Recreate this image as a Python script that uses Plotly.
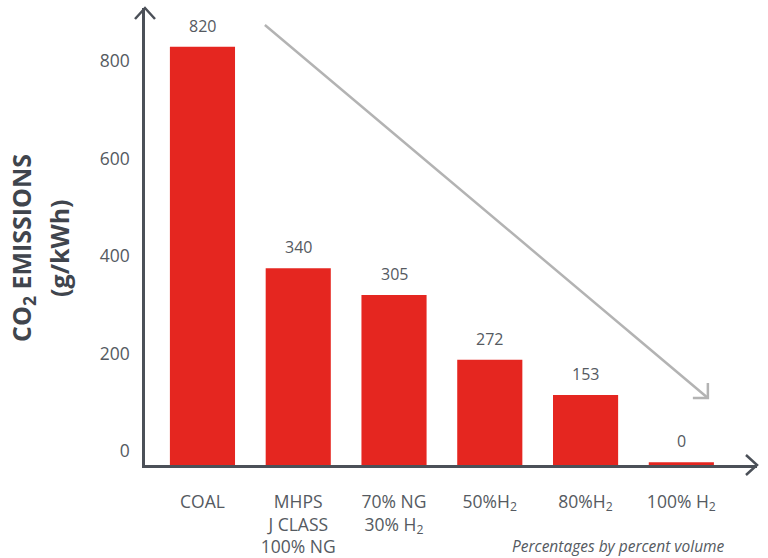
import plotly.graph_objects as go

categories = ["COAL", "MHPS<br>J CLASS<br>100% NG", "70% NG<br>30% H<sub>2</sub>",
              "50%H<sub>2</sub>", "80%H<sub>2</sub>", "100% H<sub>2</sub>"]
bar_tops = [829, 375, 320, 187, 115, -23]          # visual bar heights
value_labels = ["820", "340", "305", "272", "153", "0"]
y_ticks = [0, 200, 400, 600, 800]

Y_MIN, Y_MAX = -28.7, 908.7
X_MIN, X_MAX = -0.6, 5.79
AXIS_COL = "#4b5058"
TEXT_COL = "#555a61"
BAR_COL = "#e52620"
FONT = "Open Sans"

xs = list(range(len(categories)))

fig = go.Figure()
fig.add_trace(go.Bar(
    x=xs, y=[t - Y_MIN for t in bar_tops], base=Y_MIN,
    marker=dict(color=BAR_COL, line=dict(width=0)),
    width=0.68, hoverinfo="skip",
))

for x, t, lab in zip(xs, bar_tops, value_labels):
    fig.add_annotation(x=x, y=t, text=lab, showarrow=False, yanchor="middle",
                       yshift=21, font=dict(family=FONT, size=16, color=TEXT_COL))

# y-axis title (two rotated lines)
fig.add_annotation(xref="paper", yref="paper", x=(23 - 145) / 612, y=0.475,
                   text="<b>CO<sub>2</sub> EMISSIONS</b>", textangle=-90, showarrow=False,
                   xanchor="center", yanchor="middle",
                   font=dict(family=FONT, size=25, color="#40454d"))
fig.add_annotation(xref="paper", yref="paper", x=(59 - 145) / 612, y=0.475,
                   text="<b>(g/kWh)</b>", textangle=-90, showarrow=False,
                   xanchor="center", yanchor="middle",
                   font=dict(family=FONT, size=25, color="#40454d"))

# footnote
fig.add_annotation(xref="paper", yref="paper", x=(727 - 145) / 612, y=(465 - 546) / 457,
                   text="<i>Percentages by percent volume</i>", showarrow=False,
                   xanchor="right", yanchor="middle",
                   font=dict(family=FONT, size=15.5, color=TEXT_COL))

# gray trend arrow
ax0, ay0, ax1, ay1 = 0.652, 874, 5.277, 108.7
fig.add_shape(type="line", x0=ax0, y0=ay0, x1=ax1, y1=ay1, xref="x", yref="y",
              line=dict(color="#b3b3b3", width=2.5))
fig.add_shape(type="path", xref="x", yref="y", xsizemode="pixel", ysizemode="pixel",
              xanchor=ax1, yanchor=ay1, path="M -15,0 L 0,0 L 0,15",
              line=dict(color="#b3b3b3", width=2.5))

# axis arrowheads (paper-referenced so they are not clipped)
fig.add_shape(type="path", xref="paper", yref="paper", xsizemode="pixel", ysizemode="pixel",
              xanchor=0, yanchor=1, path="M -10,-11 L 0,0 L 10,-11",
              line=dict(color=AXIS_COL, width=2.5))
fig.add_shape(type="path", xref="paper", yref="paper", xsizemode="pixel", ysizemode="pixel",
              xanchor=1, yanchor=0, path="M -11,10 L 0,0 L -11,-10",
              line=dict(color=AXIS_COL, width=2.5))

fig.update_layout(
    width=768, height=558,
    margin=dict(l=145, r=11, t=8, b=93, autoexpand=False),
    paper_bgcolor="white", plot_bgcolor="white",
    showlegend=False,
    font=dict(family=FONT, color=TEXT_COL),
    xaxis=dict(range=[X_MIN, X_MAX], tickvals=xs, ticktext=categories,
               showgrid=False, zeroline=False, showline=True, linecolor=AXIS_COL,
               linewidth=2.5, ticks="", ticklabelstandoff=19, automargin=False,
               tickfont=dict(family=FONT, size=17.5, color=TEXT_COL)),
    yaxis=dict(range=[Y_MIN, Y_MAX], tickvals=y_ticks,
               showgrid=False, zeroline=False, showline=True, linecolor=AXIS_COL,
               linewidth=2.5, ticks="", ticklabelstandoff=9, automargin=False,
               tickfont=dict(family=FONT, size=17.5, color=TEXT_COL)),
)

fig.write_html("out.html")
